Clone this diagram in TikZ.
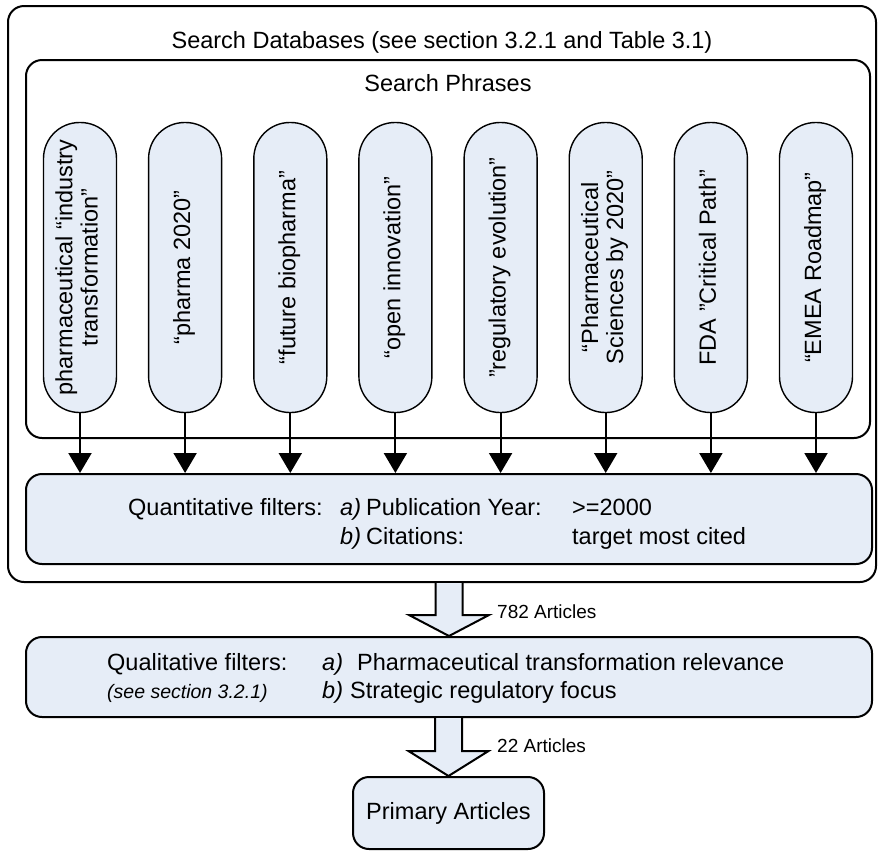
\documentclass[tikz,border=0pt]{standalone}
\usepackage{fontspec}
\setmainfont{Liberation Sans}
\usepackage{graphicx}
\usetikzlibrary{arrows.meta,calc}
\definecolor{boxfill}{RGB}{230,237,247}
\tikzset{
  every node/.style={font=\fontsize{23.5}{25}\selectfont},
  frame/.style={draw, line width=2pt, rounded corners=16pt, inner sep=0pt},
  panel/.style={frame, fill=boxfill},
  pill/.style={draw, line width=1.4pt, fill=boxfill, rounded corners=36pt,
    minimum width=73pt, minimum height=290pt, inner sep=0pt},
  feed/.style={line width=2pt, -{Triangle[length=20pt,width=23pt]}},
  txt/.style={anchor=base west, inner sep=0pt},
  note/.style={anchor=base west, inner sep=0pt, font=\fontsize{19.5}{21}\selectfont\itshape},
  count/.style={anchor=west, inner sep=0pt, font=\fontsize{19}{21}\selectfont},
  hollow/.style={draw, line width=2pt, fill=boxfill, line join=miter},
}
\newcommand{\vlabel}[1]{\rotatebox{90}{\begin{tabular}{@{}c@{}}#1\end{tabular}}}
\begin{document}
\begin{tikzpicture}[x=1pt,y=1pt]
\useasboundingbox (0,0) rectangle (878,-852);

% database frame and its phrase panel
\node[frame, minimum width=868pt, minimum height=576pt] (db) at (442,-294) {};
\node[anchor=base] (dbtitle) at (442,-48) {Search Databases (see section 3.2.1 and Table 3.1)};
\node[frame, minimum width=844pt, minimum height=378pt] (phr) at (448,-249) {};
\node[anchor=base] (phrtitle) at (448,-91) {Search Phrases};

% quantitative filter panel
\node[panel, minimum width=846pt, minimum height=90pt] (quant) at (449,-519) {};
\node[txt] (qn1) at (128,-515) {Quantitative filters:};
\node[txt] (qn2) at (340,-515) {\itshape a)};
\node[txt] (qn3) at (366,-515) {Publication Year:};
\node[txt] (qn4) at (572,-515) {>=2000};
\node[txt] (qn5) at (340,-544) {\itshape b)};
\node[txt] (qn6) at (366,-544) {Citations:};
\node[txt] (qn7) at (572,-544) {target most cited};

% search phrases
\node[pill] (p1) at (80,-267.5) {\vlabel{pharmaceutical “industry\\transformation”}};
\node[pill] (p2) at (185.1,-267.5) {\vlabel{“pharma 2020”}};
\node[pill] (p3) at (290.3,-267.5) {\vlabel{“future biopharma”}};
\node[pill] (p4) at (395.4,-267.5) {\vlabel{“open innovation”}};
\node[pill] (p5) at (500.6,-267.5) {\vlabel{”regulatory evolution”}};
\node[pill] (p6) at (605.7,-267.5) {\vlabel{“Pharmaceutical\\Sciences by 2020”}};
\node[pill] (p7) at (710.9,-267.5) {\vlabel{FDA "Critical Path"}};
\node[pill] (p8) at (816,-267.5) {\vlabel{“EMEA Roadmap”}};

\foreach \p in {p1,p2,p3,p4,p5,p6,p7,p8}
  \draw[feed] (\p.south) -- (\p.south |- quant.north);

% qualitative filter panel
\node[panel, minimum width=846pt, minimum height=80pt] (qual) at (449,-677) {};
\node[txt] (ql1) at (107,-670) {Qualitative filters:};
\node[note] (ql2) at (107,-698) {(see section 3.2.1)};
\node[txt] (ql3) at (322,-670) {\itshape a)};
\node[txt] (ql4) at (357,-670) {Pharmaceutical transformation relevance};
\node[txt] (ql5) at (322,-698) {\itshape b)};
\node[txt] (ql6) at (350,-698) {Strategic regulatory focus};

% result
\node[panel, minimum width=191pt, minimum height=72pt] (prim) at (448.5,-813) {Primary Articles};

% block arrows between stages
\coordinate (s1) at (qual.north |- db.south);
\coordinate (t1) at (qual.north);
\draw[hollow] ($(s1)+(-13.5,0)$) -- ($(t1)+(-13.5,21)$) -- ($(t1)+(-40,21)$) -- (t1)
  -- ($(t1)+(40,21)$) -- ($(t1)+(13.5,21)$) -- ($(s1)+(13.5,0)$);
\node[count] (n1) at (497,-612) {782 Articles};

\coordinate (s2) at (qual.south -| prim.north);
\coordinate (t2) at (prim.north);
\draw[hollow] ($(s2)+(-13.5,0)$) -- ($(t2)+(-13.5,25)$) -- ($(t2)+(-40,25)$) -- (t2)
  -- ($(t2)+(40,25)$) -- ($(t2)+(13.5,25)$) -- ($(s2)+(13.5,0)$);
\node[count] (n2) at (497,-746) {22 Articles};
\end{tikzpicture}
\end{document}
